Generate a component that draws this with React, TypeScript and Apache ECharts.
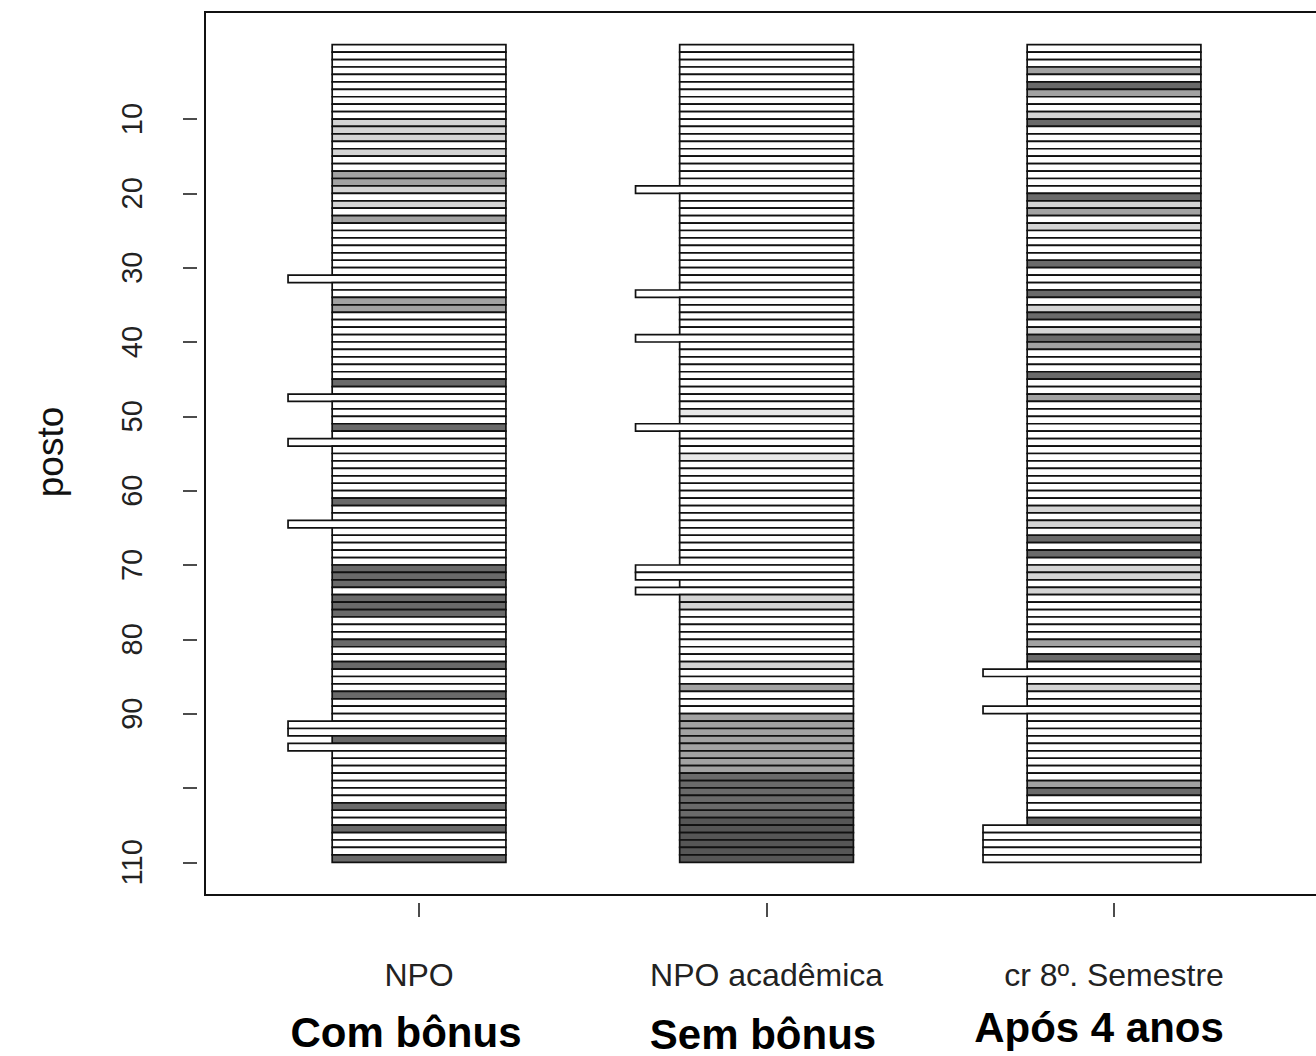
import React, { useEffect, useRef } from "react";
import * as echarts from "echarts";

// ---- data ----
const columns = ["NPO", "NPO acadêmica", "cr 8º. Semestre"];
const groupLabels = ["Com bônus", "Sem bônus", "Após 4 anos"];
const xTickValues = [1, 2, 3];
const yTickValues = [10, 20, 30, 40, 50, 60, 70, 80, 90, 100, 110];
const yLabelValues = [10, 20, 30, 40, 50, 60, 70, 80, 90, 110];

// shade code per rank (1..110): 0 white, 1 light, 2 mid, 3 dark, 4 darker, 5 faint
const npoShade = [
  0, 0, 0, 0, 0, 0, 0, 0, 0, 0,
  1, 1, 1, 0, 1, 0, 0, 2, 2, 1,
  0, 1, 0, 2, 0, 0, 0, 0, 0, 0,
  0, 0, 0, 0, 2, 2, 0, 0, 0, 0,
  0, 0, 0, 0, 0, 3, 0, 0, 0, 0,
  0, 3, 0, 0, 0, 0, 0, 0, 0, 0,
  0, 3, 0, 0, 0, 0, 0, 0, 0, 0,
  3, 3, 3, 0, 3, 3, 3, 0, 0, 0,
  3, 0, 0, 3, 0, 0, 0, 3, 0, 0,
  0, 0, 0, 3, 0, 0, 0, 0, 0, 0,
  0, 0, 3, 0, 0, 3, 0, 0, 0, 3,
];
const npoAcadShade = [
  0, 0, 0, 0, 0, 0, 0, 0, 0, 0,
  0, 0, 0, 0, 0, 0, 0, 0, 0, 0,
  0, 0, 0, 0, 0, 0, 0, 0, 0, 0,
  0, 0, 0, 0, 0, 0, 0, 0, 0, 0,
  0, 0, 0, 0, 0, 0, 0, 0, 0, 5,
  0, 0, 0, 0, 0, 5, 0, 0, 0, 0,
  0, 0, 0, 0, 0, 0, 0, 0, 0, 0,
  0, 0, 0, 0, 1, 1, 0, 0, 0, 0,
  0, 0, 0, 1, 0, 0, 2, 0, 0, 0,
  2, 2, 2, 2, 2, 2, 2, 2, 3, 3,
  3, 3, 3, 3, 4, 4, 4, 4, 4, 4,
];
const cr8Shade = [
  0, 0, 0, 2, 0, 3, 2, 0, 0, 1,
  3, 0, 0, 0, 0, 0, 0, 0, 0, 0,
  3, 1, 2, 0, 1, 0, 0, 0, 0, 3,
  0, 0, 0, 3, 0, 1, 3, 0, 1, 3,
  2, 0, 0, 0, 3, 0, 0, 2, 0, 0,
  0, 0, 0, 0, 0, 0, 0, 0, 0, 0,
  0, 0, 1, 0, 1, 0, 3, 0, 3, 0,
  1, 1, 0, 1, 0, 0, 0, 0, 0, 0,
  2, 0, 3, 0, 0, 0, 1, 0, 0, 0,
  0, 0, 0, 0, 0, 0, 0, 0, 0, 2,
  3, 0, 0, 0, 3, 0, 0, 0, 0, 0,
];
// ranks whose bar extends to the left
const npoExt = [32, 48, 54, 65, 92, 93, 95];
const npoAcadExt = [20, 34, 40, 52, 71, 72, 74];
const cr8Ext = [85, 90, 106, 107, 108, 109, 110];

const palette = ["#ffffff", "#d4d4d4", "#a2a2a2", "#6a6a6a", "#565656", "#e8e8e8"];
const FONT = "'Liberation Sans', Arial, Helvetica, sans-serif";

export default function App() {
  const ref = useRef<HTMLDivElement>(null);
  useEffect(() => {
    if (!ref.current) return;
    const chart = echarts.init(ref.current, null, { renderer: "svg" });
    const shades = [npoShade, npoAcadShade, cr8Shade];
    const exts = [npoExt, npoAcadExt, cr8Ext];
    const data: number[][] = [];
    shades.forEach((arr, ci) => {
      arr.forEach((s, ri) => {
        const rank = ri + 1;
        data.push([ci + 1, rank, s, exts[ci].includes(rank) ? 1 : 0]);
      });
    });
    const HALF = 0.25;
    const EXT = 0.127;
    const boldText = (text: string, x: number, y: number) => ({
      type: "text",
      x,
      y,
      style: {
        text,
        fontSize: 42,
        fontWeight: "bold",
        fontFamily: FONT,
        fill: "#000",
        align: "center",
        verticalAlign: "middle",
      },
    });
    chart.setOption({
      animation: false,
      backgroundColor: "#ffffff",
      grid: {
        left: 205,
        top: 12,
        right: 4,
        bottom: 161,
        show: true,
        borderColor: "#111",
        borderWidth: 2,
        backgroundColor: "transparent",
      },
      xAxis: {
        type: "value",
        position: "bottom",
        min: 0.384,
        max: 3.61,
        offset: 8,
        axisLine: { show: true, onZero: false, lineStyle: { opacity: 0 } },
        splitLine: { show: false },
        axisTick: {
          show: true,
          customValues: xTickValues,
          length: 14,
          lineStyle: { color: "#111", width: 1.5 },
        },
        axisLabel: {
          customValues: xTickValues,
          formatter: (v: number) => columns[Math.round(v) - 1] ?? "",
          margin: 56,
          fontSize: 32,
          color: "#222",
          fontFamily: FONT,
        },
      },
      yAxis: {
        type: "value",
        min: -4.4,
        max: 114.4,
        inverse: true,
        offset: 8,
        axisLine: { show: false, onZero: false },
        splitLine: { show: false },
        axisTick: {
          show: true,
          customValues: yTickValues,
          length: 14,
          lineStyle: { color: "#111", width: 1.5 },
        },
        axisLabel: {
          customValues: yLabelValues,
          rotate: 90,
          margin: 51,
          fontSize: 29,
          color: "#222",
          fontFamily: FONT,
        },
      },
      series: [
        {
          type: "custom",
          data,
          clip: false,
          renderItem: (params: any, api: any) => {
            const c = api.value(0);
            const r = api.value(1);
            const s = api.value(2);
            const e = api.value(3);
            const p1 = api.coord([c - HALF - (e ? EXT : 0), r - 1]);
            const p2 = api.coord([c + HALF, r]);
            return {
              type: "rect",
              shape: {
                x: p1[0],
                y: Math.min(p1[1], p2[1]),
                width: p2[0] - p1[0],
                height: Math.abs(p2[1] - p1[1]),
              },
              style: { fill: palette[s], stroke: "#111", lineWidth: 1.7 },
            };
          },
        },
      ],
      graphic: [
        {
          type: "text",
          x: 50,
          y: 452,
          rotation: Math.PI / 2,
          style: {
            text: "posto",
            fontSize: 37,
            fontFamily: FONT,
            fill: "#111",
            align: "center",
            verticalAlign: "middle",
          },
        },
        boldText(groupLabels[0], 406, 1032),
        boldText(groupLabels[1], 763, 1034),
        boldText(groupLabels[2], 1099, 1027),
      ],
    });
    return () => chart.dispose();
  }, []);
  return (
    <div style={{ position: "fixed", left: 0, top: 0, width: 1316, height: 1056, overflow: "hidden", background: "#fff" }}>
      <div ref={ref} style={{ width: 1330, height: 1056 }} />
    </div>
  );
}
